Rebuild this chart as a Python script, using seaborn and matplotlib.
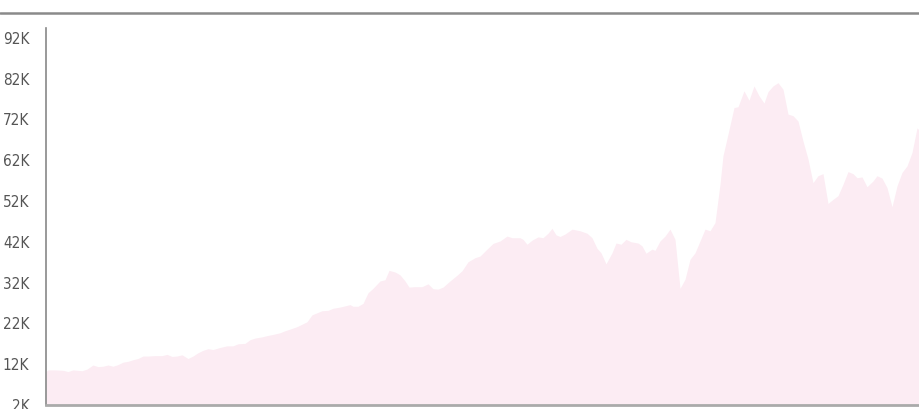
import numpy as np
import pandas as pd
import seaborn as sns
import matplotlib.pyplot as plt
from matplotlib.lines import Line2D

# position along the time axis (no labels shown on the x axis)
period = [0, 2, 9, 17, 22, 27, 36, 41, 47, 52, 57, 62, 67, 72, 77, 82, 87, 92, 97, 102,
          109, 116, 121, 126, 131, 136, 142, 147, 152, 157, 162, 167, 174, 181, 187, 192,
          199, 204, 209, 216, 221, 227, 234, 239, 244, 251, 256, 261, 266, 271, 276, 282,
          287, 294, 299, 304, 307, 312, 317, 322, 327, 334, 339, 343, 349, 354, 359, 363,
          369, 376, 382, 387, 392, 397, 404, 411, 416, 422, 429, 434, 441, 447, 454, 461,
          466, 474, 477, 481, 486, 492, 497, 502, 506, 510, 514, 519, 526, 534, 541, 546,
          551, 555, 560, 566, 570, 575, 580, 585, 592, 596, 600, 606, 609, 614, 619, 624,
          629, 634, 639, 644, 649, 654, 659, 664, 669, 674, 677, 682, 688, 692, 698, 703,
          708, 713, 718, 722, 727, 732, 737, 742, 747, 752, 757, 762, 767, 772, 777, 782,
          787, 792, 797, 802, 807, 811, 816, 821, 827, 831, 836, 841, 846, 851, 856, 861,
          866, 871, 874]

# value in thousands
value_k = [10.2, 10.6, 10.6, 10.5, 10.2, 10.6, 10.4, 10.8, 11.8, 11.4, 11.5, 11.8, 11.5,
           11.9, 12.5, 12.7, 13.1, 13.4, 14.0, 14.0, 14.1, 14.1, 14.4, 13.9, 14.0, 14.3,
           13.4, 14.0, 14.8, 15.4, 15.8, 15.6, 16.1, 16.5, 16.5, 17.0, 17.1, 18.0, 18.4,
           18.7, 19.0, 19.3, 19.7, 20.2, 20.6, 21.2, 21.8, 22.4, 24.1, 24.6, 25.1, 25.2,
           25.7, 26.0, 26.3, 26.6, 26.2, 26.2, 26.9, 29.5, 30.6, 32.4, 32.7, 35.0, 34.6,
           33.9, 32.4, 30.9, 31.0, 31.0, 31.7, 30.5, 30.4, 30.9, 32.4, 33.8, 34.9, 37.1,
           38.1, 38.5, 40.2, 41.6, 42.2, 43.4, 43.0, 43.0, 42.6, 41.4, 42.4, 43.2, 43.0,
           44.1, 45.3, 43.7, 43.3, 43.9, 45.1, 44.7, 44.1, 43.0, 40.4, 39.3, 36.6, 39.3,
           41.7, 41.4, 42.6, 42.0, 41.7, 41.0, 39.2, 40.2, 39.9, 42.2, 43.4, 45.1, 42.6,
           30.6, 32.8, 37.7, 39.3, 42.2, 45.1, 44.7, 46.7, 56.1, 63.1, 68.4, 74.9, 75.1,
           79.0, 76.7, 80.2, 77.8, 76.0, 78.8, 80.2, 81.0, 79.4, 73.3, 72.9, 71.6, 66.7,
           62.3, 56.5, 58.2, 58.7, 51.4, 52.4, 53.3, 56.1, 59.2, 58.7, 57.7, 57.9, 55.5,
           56.9, 58.2, 57.6, 55.3, 50.6, 55.7, 59.0, 60.6, 63.9, 69.9, 69.2]

tick_values = [2, 12, 22, 32, 42, 52, 62, 72, 82, 92]
tick_labels = ["2K", "12K", "22K", "32K", "42K", "52K", "62K", "72K", "82K", "92K"]

df = pd.DataFrame({"period": period, "value": value_k})

sns.set_style("white")
plt.rcParams["font.family"] = ["DejaVu Sans"]
plt.rcParams["font.stretch"] = "condensed"

fig = plt.figure(figsize=(9.2, 4.09), dpi=100)
ax = fig.add_axes([46 / 920, 4 / 409, 1 - 46 / 920, 377 / 409])

fill_color = "#fcecf3"
sns.lineplot(data=df, x="period", y="value", ax=ax, color=fill_color, linewidth=0)
ax.fill_between(df["period"], 2, df["value"], color=fill_color, linewidth=0)

ax.set_xlim(df["period"].min(), df["period"].max())
ax.set_ylim(2, 94.4)
ax.set_xticks([])
ax.set_yticks(tick_values)
ax.set_yticklabels(tick_labels)
ax.tick_params(axis="y", length=0, pad=12, labelsize=11, labelcolor="#555555")
ax.set_xlabel("")
ax.set_ylabel("")

for side in ["top", "right"]:
    ax.spines[side].set_visible(False)
ax.spines["left"].set_color("#888888")
ax.spines["left"].set_linewidth(1.2)
ax.spines["bottom"].set_color("#aaaaaa")
ax.spines["bottom"].set_linewidth(2)

# thin rule across the top of the card
fig.add_artist(Line2D([0, 1], [1 - 13 / 409, 1 - 13 / 409], transform=fig.transFigure,
                      color="#8a8a8a", linewidth=1.8))

fig.savefig("out.png", dpi=100)
